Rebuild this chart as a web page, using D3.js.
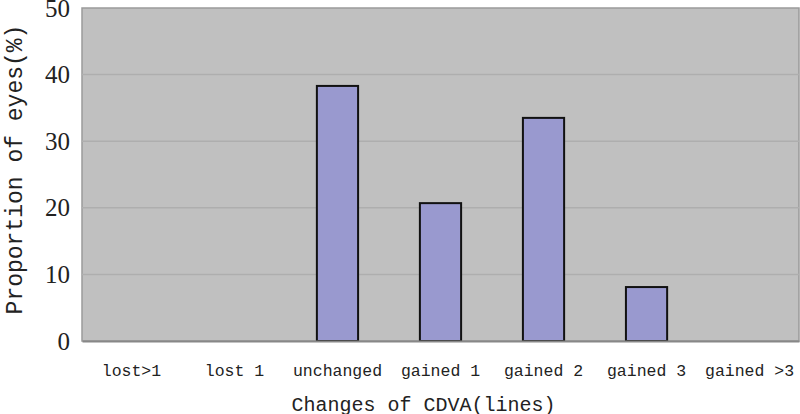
<!DOCTYPE html>
<html>
<head>
<meta charset="utf-8">
<script src="https://cdn.jsdelivr.net/npm/d3@7"></script>
<style>
  body { margin: 0; background: #fff; }
  svg { display: block; }
</style>
</head>
<body>
<div id="chart"></div>
<script>
// values
var categories = ["lost>1", "lost 1", "unchanged", "gained 1", "gained 2", "gained 3", "gained >3"];
var values = [0, 0, 38.3, 20.7, 33.5, 8.1, 0];
var yTicks = [0, 10, 20, 30, 40, 50];

var data = categories.map(function(c, i) { return {name: c, value: values[i]}; });

var margin = { top: 8, right: 1, bottom: 73, left: 82 },
    width = 800 - margin.left - margin.right,
    height = 414 - margin.top - margin.bottom;

var x = d3.scaleBand()
    .domain(categories)
    .range([0, width])
    .paddingInner(0.6)
    .paddingOuter(0.28);
var y = d3.scaleLinear()
    .domain([0, 50])
    .range([height, 0]);

var svg = d3.select("#chart").append("svg")
    .attr("width", 800)
    .attr("height", 414)
  .append("g")
    .attr("transform", "translate(" + margin.left + "," + margin.top + ")");

// gray plot area
svg.append("rect")
    .attr("width", width)
    .attr("height", height)
    .attr("fill", "#c0c0c0")
    .attr("stroke", "#9a9a9a")
    .attr("stroke-width", 1.5);

// gridlines
svg.selectAll(".grid")
    .data(yTicks.slice(1, -1))
  .enter().append("line")
    .attr("class", "grid")
    .attr("x1", 0)
    .attr("x2", width)
    .attr("y1", function(d) { return y(d); })
    .attr("y2", function(d) { return y(d); })
    .attr("stroke", "#aeaeae")
    .attr("stroke-width", 1.5);

// bars
svg.selectAll(".bar")
    .data(data.filter(function(d) { return d.value > 0; }))
  .enter().append("rect")
    .attr("class", "bar")
    .attr("x", function(d) { return x(d.name); })
    .attr("width", x.bandwidth())
    .attr("y", function(d) { return y(d.value); })
    .attr("height", function(d) { return height - y(d.value); })
    .attr("fill", "#9999cf")
    .attr("stroke", "#111")
    .attr("stroke-width", 2);

// y axis
var yAxis = svg.append("g")
    .call(d3.axisLeft(y).tickValues(yTicks).tickSize(0).tickPadding(12));
yAxis.select(".domain").remove();
yAxis.selectAll("text")
    .style("font-family", "'Liberation Serif', serif")
    .style("font-size", "25px")
    .attr("fill", "#222");

// x axis
var xAxis = svg.append("g")
    .attr("transform", "translate(0," + height + ")")
    .call(d3.axisBottom(x).tickSize(0).tickPadding(23));
xAxis.select(".domain")
    .attr("stroke", "#888")
    .attr("stroke-width", 2);
xAxis.selectAll("text")
    .style("font-family", "'Liberation Mono', monospace")
    .style("font-size", "16.5px")
    .attr("fill", "#222");

// axis titles
svg.append("text")
    .attr("x", width / 2 - 17)
    .attr("y", height + 70)
    .attr("text-anchor", "middle")
    .style("font-family", "'Liberation Mono', monospace")
    .style("font-size", "20px")
    .attr("fill", "#222")
    .text("Changes of CDVA(lines)");

svg.append("text")
    .attr("transform", "rotate(-90)")
    .attr("x", -(height / 2) + 5)
    .attr("y", -60)
    .attr("text-anchor", "middle")
    .style("font-family", "'Liberation Mono', monospace")
    .style("font-size", "23px")
    .attr("fill", "#222")
    .text("Proportion of eyes(%)");
</script>
</body>
</html>
